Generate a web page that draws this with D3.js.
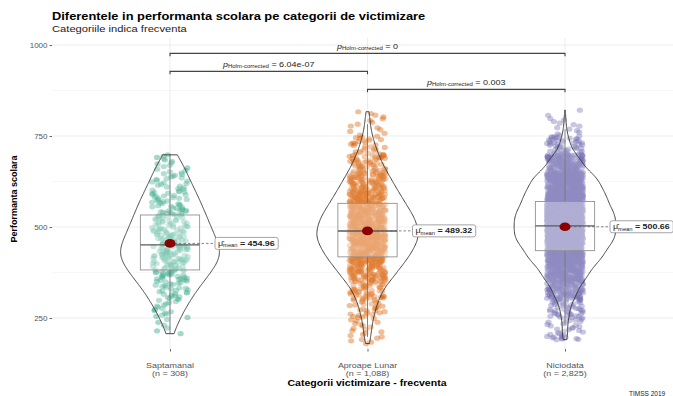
<!DOCTYPE html>
<html>
<head>
<meta charset="utf-8">
<script src="https://cdn.jsdelivr.net/npm/d3@7"></script>
<style>
  html, body { margin: 0; padding: 0; background: #fff; }
  svg { display: block; font-family: "Liberation Sans", Arial, sans-serif; }
</style>
</head>
<body>
<svg id="chart" width="673" height="396"></svg>
<script>
// ---- data -------------------------------------------------------------
const categories = ["Saptamanal", "Aproape Lunar", "Niciodata"];
const sampleSizes = [308, 1088, 2825];
const groupColors = ["#1B9E77", "#D95F02", "#7570B3"];

// score histograms, 50-point bins starting at 150 (150-200, 200-250, ... 800-850)
const binStart = 150;
const binWidth = 50;
const countsSaptamanal   = [0, 6, 16, 28, 44, 58, 48, 40, 32, 22, 14, 0, 0, 0];
const countsAproapeLunar = [6, 15, 30, 55, 111, 164, 200, 180, 135, 95, 55, 28, 10, 4];
const countsNiciodata    = [10, 24, 48, 124, 240, 385, 500, 500, 420, 340, 170, 50, 12, 2];
const groupCounts = [countsSaptamanal, countsAproapeLunar, countsNiciodata];

const scoreMin = [203, 178, 190];
const scoreMax = [703, 819, 828];

// box statistics and means
const q1s     = [382, 418, 435];
const medians = [451, 489, 503];
const q3s     = [533, 565, 570];
const means   = [454.96, 489.32, 500.66];

// pairwise comparisons (Holm-corrected), lowest bracket first
const pairs   = [[1, 2], [0, 1], [0, 2]];
const pLabels = ["0.003", "6.04e-07", "0"];

const yTicks = [250, 500, 750, 1000];
const yMinorTicks = [375, 625, 875];

// ---- layout -----------------------------------------------------------
const svg = d3.select("#chart");
const panel = { left: 52, right: 684, top: 38, bottom: 349 };

const x = d3.scalePoint().domain(categories).range([170, 565]);
const y = d3.scaleLinear().domain([250, 1000]).range([318, 45]);
const catStep = x.step();

// text drawn slightly wide (horizontal stretch sx around its anchor)
function wideText(parent, px, py, sx, anchor) {
  return parent.append("g").attr("transform", `translate(${px},${py}) scale(${sx},1)`)
    .append("text").attr("x", 0).attr("y", 0).attr("text-anchor", anchor || "start");
}

// title / subtitle
wideText(svg, 52, 20, 1.17).attr("font-size", 11).attr("font-weight", "bold").attr("fill", "#000")
  .text("Diferentele in performanta scolara pe categorii de victimizare");
wideText(svg, 52, 32, 1.3).attr("font-size", 8.6).attr("fill", "#222")
  .text("Categoriile indica frecventa");

// grid
const grid = svg.append("g");
grid.selectAll("line.minor").data(yMinorTicks).join("line")
  .attr("x1", panel.left).attr("x2", panel.right)
  .attr("y1", d => y(d)).attr("y2", d => y(d))
  .attr("stroke", "#f2f2f2").attr("stroke-width", 0.6);
grid.selectAll("line.major").data(yTicks).join("line")
  .attr("x1", panel.left).attr("x2", panel.right)
  .attr("y1", d => y(d)).attr("y2", d => y(d))
  .attr("stroke", "#ebebeb").attr("stroke-width", 0.9);
grid.selectAll("line.vert").data(categories).join("line")
  .attr("x1", d => x(d)).attr("x2", d => x(d))
  .attr("y1", panel.top).attr("y2", panel.bottom)
  .attr("stroke", "#ebebeb").attr("stroke-width", 0.9);

// y axis
const yAxis = svg.append("g").attr("transform", `translate(${panel.left},0)`)
  .call(d3.axisLeft(y).tickValues(yTicks).tickFormat(d3.format("d")).tickSize(2.5).tickPadding(2));
yAxis.select(".domain").remove();
yAxis.selectAll(".tick line").attr("stroke", "#666");
yAxis.selectAll(".tick text").attr("font-size", 8).attr("fill", "#555")
  .attr("font-family", "Liberation Sans, Arial, sans-serif");

svg.append("text")
  .attr("transform", "translate(17,199) rotate(-90)")
  .attr("text-anchor", "middle").attr("font-size", 9).attr("font-weight", "bold")
  .text("Performanta scolara");

// x axis
const xAxis = svg.append("g").attr("transform", `translate(0,${panel.bottom})`)
  .call(d3.axisBottom(x).tickSize(2.5).tickFormat(""));
xAxis.select(".domain").remove();
xAxis.selectAll(".tick line").attr("stroke", "#666");
const fmtN = d3.format(",");
categories.forEach((c, i) => {
  const g = svg.append("g").attr("transform", `translate(${x(c)},368) scale(1.12,1)`);
  const t = g.append("text").attr("text-anchor", "middle").attr("font-size", 8).attr("fill", "#555");
  t.append("tspan").attr("x", 0).attr("y", 0).text(c);
  t.append("tspan").attr("x", 0).attr("dy", 8).text(`(n = ${fmtN(sampleSizes[i])})`);
});
wideText(svg, 367, 386, 1.12, "middle").attr("font-size", 9.4).attr("font-weight", "bold")
  .text("Categorii victimizare - frecventa");
svg.append("text").attr("x", 629).attr("y", 396)
  .attr("font-size", 6.5).attr("fill", "#222")
  .text("TIMSS 2019");

// ---- per-group values laid out from the histograms ---------------------
// deterministic jitter offset from an integer index (integer hash -> [0,1))
function jitterOf(n) {
  let t = (n + 0x6D2B79F5) >>> 0;
  t = Math.imul(t ^ (t >>> 15), t | 1);
  t ^= t + Math.imul(t ^ (t >>> 7), t | 61);
  return ((t ^ (t >>> 14)) >>> 0) / 4294967296;
}
const groupValues = groupCounts.map((counts, g) => {
  const pts = [];
  counts.forEach((c, b) => {
    const lo = Math.max(binStart + b * binWidth, scoreMin[g]);
    const hi = Math.min(binStart + (b + 1) * binWidth, scoreMax[g]);
    for (let i = 0; i < c; i++) {
      const v = lo + (i + 0.5) / c * (hi - lo);
      pts.push({ v, u: jitterOf(g * 100000 + b * 1000 + i) });
    }
  });
  return pts;
});

const plot = svg.append("g");
svg.append("clipPath").attr("id", "panelClip")
  .append("rect").attr("x", panel.left).attr("y", panel.top)
  .attr("width", panel.right - panel.left).attr("height", panel.bottom - panel.top);
plot.attr("clip-path", "url(#panelClip)");

// jittered points
const jitterHalf = 18;
groupValues.forEach((pts, g) => {
  const cx = x(categories[g]);
  plot.append("g").selectAll("ellipse").data(pts).join("ellipse")
    .attr("cx", d => cx + (d.u * 2 - 1) * jitterHalf)
    .attr("cy", d => y(d.v))
    .attr("rx", 3.1).attr("ry", 2.6)
    .attr("fill", groupColors[g]).attr("fill-opacity", 0.4);
});

// box plots
const boxHalf = catStep * 0.15;
groupValues.forEach((pts, g) => {
  const cx = x(categories[g]);
  const iqr = q3s[g] - q1s[g];
  const vals = pts.map(p => p.v);
  const wHi = d3.max(vals.filter(v => v <= q3s[g] + 1.5 * iqr));
  const wLo = d3.min(vals.filter(v => v >= q1s[g] - 1.5 * iqr));
  const bg = plot.append("g");
  bg.append("line").attr("x1", cx).attr("x2", cx).attr("y1", y(q3s[g])).attr("y2", y(wHi))
    .attr("stroke", "#555").attr("stroke-width", 0.9);
  bg.append("line").attr("x1", cx).attr("x2", cx).attr("y1", y(q1s[g])).attr("y2", y(wLo))
    .attr("stroke", "#555").attr("stroke-width", 0.9);
  bg.append("rect").attr("x", cx - boxHalf).attr("width", 2 * boxHalf)
    .attr("y", y(q3s[g])).attr("height", y(q1s[g]) - y(q3s[g]))
    .attr("fill", "#fff").attr("fill-opacity", 0.3)
    .attr("stroke", "#777").attr("stroke-width", 0.9);
  bg.append("line").attr("x1", cx - boxHalf).attr("x2", cx + boxHalf)
    .attr("y1", y(medians[g])).attr("y2", y(medians[g]))
    .attr("stroke", "#333").attr("stroke-width", 1.3);
});

// violins (gaussian KDE, Silverman bandwidth, area-scaled)
function kde(vals) {
  const n = vals.length;
  const sd = d3.deviation(vals);
  const iqr = d3.quantile(vals, 0.75) - d3.quantile(vals, 0.25);
  const bw = 0.9 * Math.min(sd, iqr / 1.34) * Math.pow(n, -0.2);
  const lo = d3.min(vals), hi = d3.max(vals);
  const steps = d3.range(0, 201).map(i => lo + (hi - lo) * i / 200);
  return steps.map(t => {
    let s = 0;
    for (const v of vals) { const z = (t - v) / bw; s += Math.exp(-0.5 * z * z); }
    return [t, s / (n * bw * Math.sqrt(2 * Math.PI))];
  });
}
const dens = groupValues.map(pts => kde(pts.map(p => p.v).sort(d3.ascending)));
const maxDens = d3.max(dens, d => d3.max(d, e => e[1]));
const violinHalf = catStep * 0.25 * 1.03;
dens.forEach((d, g) => {
  const cx = x(categories[g]);
  const w = d3.scaleLinear().domain([0, maxDens]).range([0, violinHalf]);
  const area = d3.area()
    .y(e => y(e[0]))
    .x0(e => cx - w(e[1])).x1(e => cx + w(e[1]))
    .curve(d3.curveBasis);
  plot.append("path").datum(d).attr("d", area)
    .attr("fill", "#fff").attr("fill-opacity", 0.2)
    .attr("stroke", "#333").attr("stroke-width", 0.9);
});

// means with labels
const fmtMean = d3.format(".2f");
means.forEach((m, g) => {
  const cx = x(categories[g]);
  const my = y(m);
  const lx = cx + 45;
  svg.append("line").attr("x1", cx).attr("x2", lx).attr("y1", my).attr("y2", my)
    .attr("stroke", "#666").attr("stroke-width", 0.8).attr("stroke-dasharray", "2.5,2");
  svg.append("ellipse").attr("cx", cx).attr("cy", my).attr("rx", 5.5).attr("ry", 4.3)
    .attr("fill", "#8B0000");
  const lg = svg.append("g").attr("transform", `translate(${lx},${my}) scale(1.2,1)`);
  const rect = lg.append("rect").attr("x", 0).attr("y", -6).attr("height", 12)
    .attr("rx", 2).attr("fill", "#fff").attr("stroke", "#999").attr("stroke-width", 0.8);
  const t = lg.append("text").attr("x", 2.5).attr("y", 2.6)
    .attr("font-size", 7.4).attr("fill", "#222");
  t.append("tspan").text("\u03BC\u0302");
  t.append("tspan").attr("font-size", 4.8).attr("dy", 1.5).text("mean");
  t.append("tspan").attr("dy", -1.5).attr("font-weight", "bold").text(" = " + fmtMean(m));
  const bb = t.node().getBBox();
  rect.attr("width", bb.width + 5);
});

// significance brackets
const bracketBase = 878, bracketStep = 49.5, tickDrop = 8;
pairs.forEach((p, k) => {
  const lvl = bracketBase + k * bracketStep;
  const x1 = x(categories[p[0]]), x2 = x(categories[p[1]]);
  const by = y(lvl);
  svg.append("path")
    .attr("d", `M${x1},${y(lvl - tickDrop)}V${by}H${x2}V${y(lvl - tickDrop)}`)
    .attr("fill", "none").attr("stroke", "#444").attr("stroke-width", 1.1);
  const t = wideText(svg, (x1 + x2) / 2, by - 4.5, 1.25, "middle")
    .attr("font-size", 7.2).attr("fill", "#222");
  t.append("tspan").attr("font-style", "italic").text("p");
  t.append("tspan").attr("font-size", 4.8).attr("dy", 1.5).text("Holm-corrected");
  t.append("tspan").attr("dy", -1.5).text(" = " + pLabels[k]);
});
</script>
</body>
</html>
